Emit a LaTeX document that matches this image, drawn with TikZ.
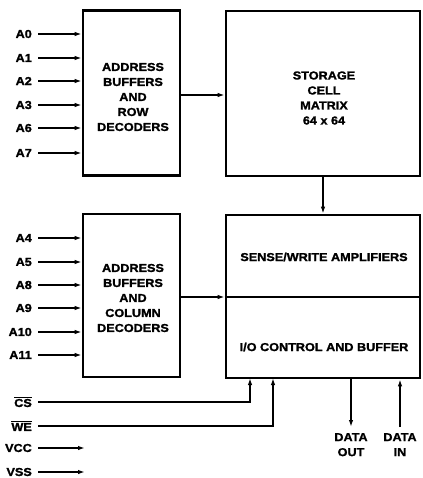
\documentclass[tikz,border=0pt]{standalone}
\usepackage{fontspec}
\setmainfont{Liberation Sans}[FakeStretch=1.1,BoldFeatures={FakeBold=1.5}]
\usetikzlibrary{arrows.meta}
\begin{document}
\begin{tikzpicture}[x=1pt,y=-1pt,
  box/.style={draw,line width=2.6pt,inner sep=0pt},
  txt/.style={font=\fontsize{11.5}{15}\selectfont\bfseries,align=center,inner sep=0pt},
  lab/.style={font=\fontsize{11.5}{15}\selectfont\bfseries,anchor=east,inner sep=0pt},
  arr/.style={line width=1.6pt,-{Latex[length=7pt,width=4.5pt]}},
  ln/.style={line width=1.6pt}]
\useasboundingbox (0,0) rectangle (422,478);
% boxes
\node[box,minimum width=97pt,minimum height=165pt] (b1) at (131.5,93) {};
\node[box,minimum width=194pt,minimum height=165pt] (sm) at (323,93.5) {};
\node[box,minimum width=97pt,minimum height=163pt] (b2) at (131.5,295.5) {};
\node[box,minimum width=194pt,minimum height=163pt] (io) at (323,296.5) {};
\draw[line width=2.6pt] (io.west |- 0,297) -- (io.east |- 0,297);
% texts
\node[txt] (t1) at (133,97) {ADDRESS\\BUFFERS\\AND\\ROW\\DECODERS};
\node[txt] (t2) at (324,98) {STORAGE\\CELL\\MATRIX\\64 x 64};
\node[txt] (t3) at (133,298) {ADDRESS\\BUFFERS\\AND\\COLUMN\\DECODERS};
\node[txt] (t4) at (324,257) {SENSE/WRITE AMPLIFIERS};
\node[txt] (t5) at (324,347) {I/O CONTROL AND BUFFER};
% inputs
\foreach \n/\y in {A0/34,A1/58,A2/81,A3/105,A6/128,A7/153}{
  \node[lab] (\n) at (32,\y) {\n};
  \draw[arr] ([xshift=6pt]\n.east) -- (\n.east -| b1.west);
}
\foreach \n/\y in {A4/238,A5/262,A8/285,A9/308,A10/332,A11/355}{
  \node[lab] (\n) at (32,\y) {\n};
  \draw[arr] ([xshift=6pt]\n.east) -- (\n.east -| b2.west);
}
\draw[arr] (b1.east |- 0,95) -- (sm.west |- 0,95);
\draw[arr] (b2.east |- 0,297) -- (io.west |- 0,297);
\draw[arr] (sm.south) -- (io.north);
% control
\node[lab] (cs) at (32,402) {$\overline{\hbox{\bfseries CS}}$};
\node[lab] (we) at (32,426) {$\overline{\hbox{\bfseries WE}}$};
\node[lab] (vcc) at (32,448) {VCC};
\node[lab] (vss) at (32,472) {VSS};
\coordinate (csin) at (250,378);
\coordinate (wein) at (273,378);
\draw[arr] ([xshift=6pt]cs.east) -| (csin);
\draw[arr] ([xshift=6pt]we.east) -| (wein);
\coordinate (vcce) at (85,448);
\coordinate (vsse) at (85,472);
\draw[arr] ([xshift=6pt]vcc.east) -- (vcce);
\draw[arr] ([xshift=6pt]vss.east) -- (vsse);
% data
\node[txt,anchor=north] (dout) at (351,433) {DATA\\OUT};
\node[txt,anchor=north] (din) at (400,433) {DATA\\IN};
\draw[arr] (io.south -| dout.north) -- ([yshift=6pt]dout.north);
\draw[arr] ([yshift=6pt]din.north) -- (io.south -| din.north);
\end{tikzpicture}
\end{document}
